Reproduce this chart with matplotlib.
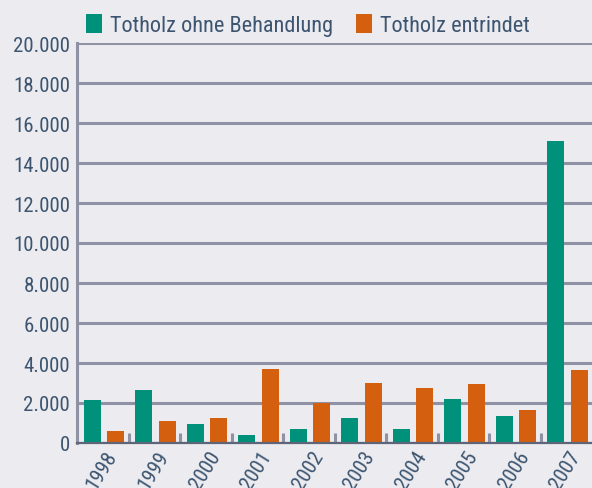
import numpy as np
import matplotlib.pyplot as plt
from matplotlib import font_manager
from matplotlib.ticker import FuncFormatter

# Daten
jahre = ['1998', '1999', '2000', '2001', '2002', '2003', '2004', '2005', '2006', '2007']
ohne_behandlung = [2150, 2650, 950, 400, 700, 1250, 700, 2200, 1350, 15100]
entrindet = [600, 1100, 1250, 3700, 2000, 3000, 2750, 2950, 1650, 3650]

bg = '#ebebf0'
text_col = '#3d5570'
grid_col = '#8e92a4'
gruen = '#00917a'
orange = '#d45f0e'

# schmale Schrift, falls vorhanden
vorhanden = {f.name for f in font_manager.fontManager.ttflist}
schrift, fs, fs_leg = 'DejaVu Sans', 12.5, 13.5
for name, size, size_leg in [('Liberation Sans Narrow', 15, 16),
                             ('DejaVu Sans Condensed', 13.5, 14.5),
                             ('Roboto Condensed', 15, 16),
                             ('Open Sans Condensed', 15, 16)]:
    if name in vorhanden:
        schrift, fs, fs_leg = name, size, size_leg
        break
plt.rcParams['font.family'] = [schrift, 'DejaVu Sans']

fig = plt.figure(figsize=(5.92, 4.89), dpi=100, facecolor=bg)
ax = fig.add_axes([77 / 592, 45 / 489, 515 / 592, 400 / 489], facecolor=bg)

x = np.arange(len(jahre))
ax.bar(x - 0.20, ohne_behandlung, width=0.33, color=gruen, zorder=3,
       label='Totholz ohne Behandlung')
ax.bar(x + 0.25, entrindet, width=0.33, color=orange, zorder=3,
       label='Totholz entrindet')

ax.set_xlim(-0.5, len(jahre) - 0.5)
ax.set_ylim(0, 20000)

# Gitterlinien
ax.set_yticks(np.arange(0, 20001, 2000))
ax.yaxis.set_major_formatter(FuncFormatter(lambda v, p: f'{int(v):,}'.replace(',', '.')))
ax.grid(axis='y', color=grid_col, linewidth=2.2, zorder=1)
ax.tick_params(axis='y', length=0, labelsize=fs, labelcolor=text_col, pad=5)

# kleine Trennstriche zwischen den Jahren
ax.set_xticks(x[:-1] + 0.5)
ax.set_xticklabels([])
ax.tick_params(axis='x', which='major', direction='in', length=7.5, width=2.2,
               color=grid_col)
ax.set_xticks(x + 0.04, minor=True)
ax.set_xticklabels(jahre, minor=True, rotation=58, ha='right',
                   rotation_mode='anchor', fontsize=fs, color=text_col)
ax.tick_params(axis='x', which='minor', length=0, pad=3)

for s in ['top', 'right']:
    ax.spines[s].set_visible(False)
ax.spines['left'].set_color(grid_col)
ax.spines['left'].set_linewidth(2.2)
ax.spines['bottom'].set_color('#5f6578')
ax.spines['bottom'].set_linewidth(1.6)
ax.spines['bottom'].set_zorder(4)

leg = ax.legend(loc='center left', bbox_to_anchor=(9 / 515, 1 + 18 / 400), ncol=2,
                frameon=False, fontsize=fs_leg, handlelength=0.72, handleheight=0.9,
                handletextpad=0.38, columnspacing=1.0, borderaxespad=0,
                borderpad=0)
for t in leg.get_texts():
    t.set_color(text_col)

fig.savefig('out.png', dpi=100, facecolor=bg)
